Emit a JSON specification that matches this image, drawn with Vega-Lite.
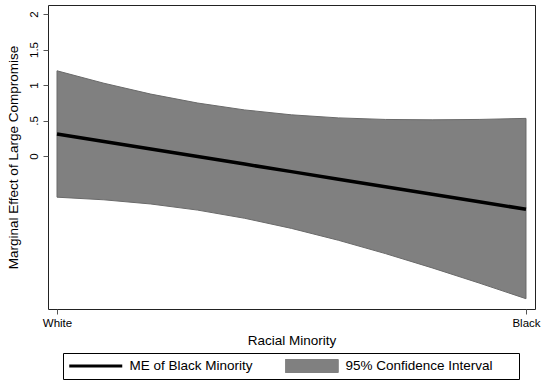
{
  "$schema": "https://vega.github.io/schema/vega-lite/v6.json",
  "width": 487,
  "height": 304,
  "autosize": "none",
  "padding": {"left": 48, "top": 5, "right": 7, "bottom": 72},
  "background": "#ffffff",
  "data": {
    "values": [
      {"x": 0.0, "upper": 1.20, "lower": -0.58, "me": 0.31},
      {"x": 0.1, "upper": 1.025, "lower": -0.617, "me": 0.204},
      {"x": 0.2, "upper": 0.872, "lower": -0.676, "me": 0.098},
      {"x": 0.3, "upper": 0.746, "lower": -0.762, "me": -0.008},
      {"x": 0.4, "upper": 0.649, "lower": -0.877, "me": -0.114},
      {"x": 0.5, "upper": 0.58, "lower": -1.02, "me": -0.22},
      {"x": 0.6, "upper": 0.537, "lower": -1.187, "me": -0.326},
      {"x": 0.7, "upper": 0.515, "lower": -1.374, "me": -0.432},
      {"x": 0.8, "upper": 0.51, "lower": -1.576, "me": -0.538},
      {"x": 0.9, "upper": 0.515, "lower": -1.789, "me": -0.644},
      {"x": 1.0, "upper": 0.53, "lower": -2.01, "me": -0.75}
    ]
  },
  "layer": [
    {
      "mark": {"type": "area", "stroke": "#6a6a6a", "strokeWidth": 1, "opacity": 1, "fillOpacity": 1},
      "encoding": {
        "x": {"field": "x", "type": "quantitative"},
        "y": {"field": "upper", "type": "quantitative"},
        "y2": {"field": "lower"},
        "color": {"datum": "95% Confidence Interval"}
      }
    },
    {
      "mark": {"type": "line", "strokeWidth": 3.5},
      "encoding": {
        "x": {"field": "x", "type": "quantitative"},
        "y": {"field": "me", "type": "quantitative"},
        "color": {"datum": "ME of Black Minority"}
      }
    }
  ],
  "encoding": {
    "x": {
      "field": "x",
      "type": "quantitative",
      "scale": {"domain": [-0.0192, 1.0192], "nice": false, "zero": false},
      "axis": {
        "values": [0, 1],
        "labelExpr": "datum.value == 0 ? 'White' : 'Black'",
        "title": "Racial Minority",
        "grid": false,
        "domain": false,
        "tickSize": 5,
        "tickColor": "#555555",
        "labelFontSize": 11.5,
        "labelColor": "#000000",
        "labelPadding": 3,
        "titleFontSize": 13.5,
        "titleFontWeight": "normal",
        "titleColor": "#000000",
        "titlePadding": 5
      }
    },
    "y": {
      "type": "quantitative",
      "scale": {"domain": [-2.155, 2.127], "nice": false, "zero": false},
      "axis": {
        "values": [0, 0.5, 1, 1.5, 2],
        "labelExpr": "datum.value == 0.5 ? '.5' : (datum.value == 1.5 ? '1.5' : '' + datum.value)",
        "title": "Marginal Effect of Large Compromise",
        "grid": false,
        "domain": false,
        "tickSize": 5,
        "tickColor": "#555555",
        "labelAngle": -90,
        "labelAlign": "center",
        "labelBaseline": "alphabetic",
        "labelFontSize": 11.5,
        "labelColor": "#000000",
        "labelPadding": 6,
        "titleFontSize": 13.5,
        "titleFontWeight": "normal",
        "titleColor": "#000000",
        "titlePadding": 8
      }
    },
    "color": {
      "type": "nominal",
      "scale": {"domain": ["ME of Black Minority", "95% Confidence Interval"], "range": ["#000000", "#808080"]},
      "legend": {
        "orient": "none",
        "legendX": 15,
        "legendY": 348,
        "direction": "horizontal",
        "columns": 2,
        "title": " ",
        "titleOrient": "right",
        "titlePadding": 20,
        "padding": 6,
        "strokeColor": "#000000",
        "fillColor": "#ffffff",
        "symbolSize": 2809,
        "symbolStrokeWidth": 1,
        "symbolOffset": 20,
        "labelOffset": 27,
        "columnPadding": 32,
        "labelFontSize": 13.5,
        "labelColor": "#000000",
        "labelLimit": 300,
        "clipHeight": 14,
        "encode": {
          "symbols": {
            "update": {
              "shape": {"signal": "datum.value === 'ME of Black Minority' ? 'M-1,0H1' : 'M-1,-0.245H1V0.245H-1Z'"},
              "fill": {"signal": "datum.value === 'ME of Black Minority' ? 'transparent' : '#808080'"},
              "stroke": {"signal": "datum.value === 'ME of Black Minority' ? '#000000' : '#6a6a6a'"},
              "strokeWidth": {"signal": "datum.value === 'ME of Black Minority' ? 3 : 1"},
              "opacity": {"value": 1}
            }
          }
        }
      }
    }
  },
  "config": {
    "font": "Liberation Sans",
    "view": {"stroke": "#222222", "strokeWidth": 1}
  }
}
